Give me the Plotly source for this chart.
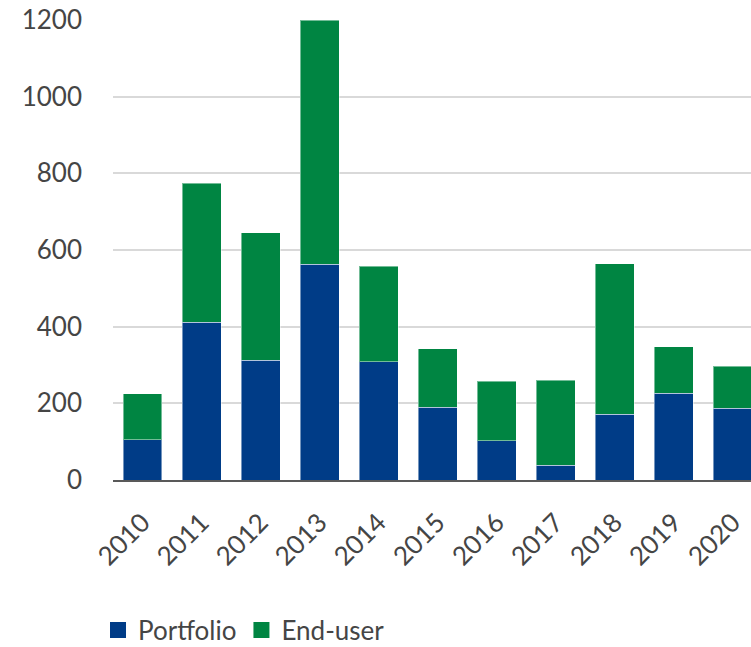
import plotly.graph_objects as go

years = ["2010", "2011", "2012", "2013", "2014", "2015", "2016", "2017", "2018", "2019", "2020"]
portfolio = [105, 412, 312, 563, 308, 190, 103, 38, 172, 226, 187]
end_user = [120, 362, 333, 637, 249, 152, 154, 222, 392, 121, 110]
y_ticks = [0, 200, 400, 600, 800, 1000, 1200]

BLUE = "#003c87"
GREEN = "#008542"
TEXT = "#454545"
FONT = "Lato, 'Noto Sans', sans-serif"

fig = go.Figure()
fig.add_trace(go.Bar(x=years, y=portfolio, name="Portfolio", showlegend=False,
                     marker=dict(color=BLUE, line=dict(color="rgba(255,255,255,0.45)", width=1))))
fig.add_trace(go.Bar(x=years, y=end_user, name="End-user", showlegend=False,
                     marker=dict(color=GREEN, line=dict(color="rgba(255,255,255,0.45)", width=1))))
# legend entries with larger square swatches
fig.add_trace(go.Scatter(x=[None], y=[None], mode="markers", name="Portfolio",
                         marker=dict(symbol="square", size=18, color=BLUE)))
fig.add_trace(go.Scatter(x=[None], y=[None], mode="markers", name="End-user",
                         marker=dict(symbol="square", size=18, color=GREEN)))

fig.update_layout(
    width=751, height=647,
    barmode="stack", bargap=0.34,
    plot_bgcolor="white", paper_bgcolor="white",
    margin=dict(l=113, r=0, t=20, b=167),
    font=dict(family=FONT, size=26, color=TEXT),
    showlegend=True,
    legend=dict(orientation="h", xref="paper", x=-0.0235, xanchor="left",
                yref="container", y=0.026, yanchor="middle",
                font=dict(size=26, color=TEXT), itemsizing="trace",
                traceorder="normal"),
    xaxis=dict(range=[-0.5, 10.31], tickangle=-45, showgrid=False, automargin=False,
               showline=True, linecolor="#595959", linewidth=2,
               ticks="", ticklabelstandoff=15, tickfont=dict(size=26, color=TEXT)),
    yaxis=dict(range=[0, 1200], tickvals=y_ticks, ticklabeloverflow="allow", automargin=False,
               showgrid=True, gridcolor="#d9d9d9", gridwidth=1.5,
               zeroline=False, ticks="", ticklabelstandoff=30,
               tickfont=dict(size=26, color=TEXT)),
)

fig.write_html("out.html", config={"displayModeBar": False},
               post_script="document.body.style.margin='0px';")
